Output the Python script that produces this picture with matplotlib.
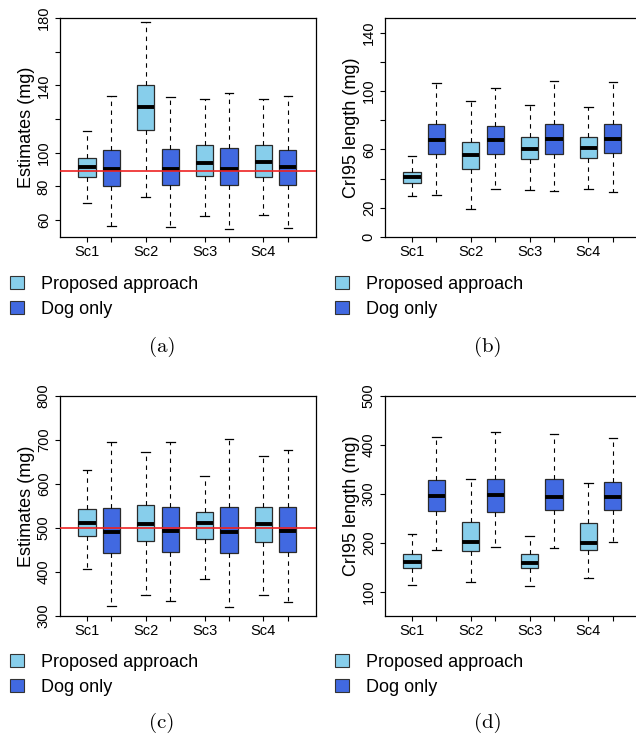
import numpy as np
import matplotlib.pyplot as plt
from matplotlib.patches import Patch

plt.rcParams['font.family'] = ['Liberation Sans', 'DejaVu Sans']

scenarios = ['Sc1', 'Sc2', 'Sc3', 'Sc4']
methods = ['Proposed approach', 'Dog only']
colors = ['#87CEEB', '#4169E1']

# box summaries, order: Sc1 proposed, Sc1 dog, Sc2 proposed, Sc2 dog, ...
# (a) estimates, small dose
a_lo = [69.9, 56.4, 74.0, 55.8, 62.2, 54.9, 63.2, 55.1]
a_q1 = [85.5, 80.4, 113.8, 80.8, 86.3, 81.1, 85.9, 81.1]
a_med = [91.4, 90.4, 127.4, 90.4, 94.0, 90.6, 94.6, 91.4]
a_q3 = [96.6, 101.7, 140.1, 102.1, 104.5, 102.9, 104.7, 101.9]
a_hi = [113.2, 133.5, 177.6, 132.9, 132.0, 135.5, 132.2, 133.5]
a_true = 89

# (b) CrI95 length, small dose
b_lo = [28.0, 28.9, 18.9, 33.2, 32.1, 31.4, 33.0, 31.0]
b_q1 = [37.1, 56.9, 46.4, 57.1, 53.5, 57.1, 53.9, 57.8]
b_med = [41.0, 66.2, 56.4, 66.7, 60.5, 67.4, 61.0, 67.1]
b_q3 = [44.4, 77.2, 65.1, 76.0, 68.3, 77.2, 68.3, 77.2]
b_hi = [55.5, 105.6, 93.1, 102.2, 90.1, 107.0, 89.2, 106.3]

# (c) estimates, large dose
c_lo = [407.6, 322.7, 347.0, 334.1, 383.3, 321.2, 347.7, 332.6]
c_q1 = [481.8, 443.9, 469.7, 446.2, 475.0, 442.4, 468.2, 445.5]
c_med = [510.6, 490.9, 508.3, 492.4, 510.6, 490.2, 508.3, 492.4]
c_q3 = [542.4, 545.5, 551.5, 547.0, 537.1, 547.7, 548.5, 547.0]
c_hi = [632.6, 695.5, 672.0, 696.2, 619.0, 701.5, 663.6, 676.5]
c_true = 500

# (d) CrI95 length, large dose
d_lo = [114.3, 184.4, 120.4, 190.5, 111.6, 189.1, 128.6, 201.4]
d_q1 = [148.3, 264.0, 183.0, 261.9, 148.3, 266.0, 184.4, 266.0]
d_med = [160.5, 295.2, 201.4, 297.3, 159.2, 293.9, 199.3, 293.2]
d_q3 = [176.9, 327.9, 241.5, 330.0, 176.2, 330.0, 239.5, 324.5]
d_hi = [218.4, 416.3, 329.3, 425.9, 214.3, 423.1, 322.5, 413.6]

W, H = 636, 738
pos = np.repeat(np.arange(4) * 2.4, 2) + np.tile([1, 2], 4)


def panel(rect, lo, q1, med, q3, hi, ylim, yticks, ylabels, ylabel, true=None):
    l, t, w, h = rect
    ax = fig.add_axes([l / W, 1 - (t + h) / H, w / W, h / H])
    stats = [dict(whislo=lo[i], q1=q1[i], med=med[i], q3=q3[i], whishi=hi[i], fliers=[])
             for i in range(len(med))]
    bp = ax.bxp(stats, positions=pos, widths=0.7, patch_artist=True, showfliers=False,
                manage_ticks=False,
                boxprops=dict(edgecolor='#2a2a2a', linewidth=0.9),
                medianprops=dict(color='black', linewidth=2.8, solid_capstyle='butt'),
                whiskerprops=dict(color='black', linewidth=0.8, linestyle=(0, (4, 4))),
                capprops=dict(color='black', linewidth=0.9))
    for i, box in enumerate(bp['boxes']):
        box.set_facecolor(colors[i % 2])
    if true is not None:
        ax.axhline(true, color='#ee2222', linewidth=1.2, zorder=5)
    ax.set_xlim(-0.1, 10.35)
    ax.set_ylim(*ylim)
    ax.set_xticks(pos)
    xl = []
    for s in scenarios:
        xl += [s, '']
    ax.set_xticklabels(xl, fontsize=10.5)
    ax.set_yticks(yticks)
    ax.set_yticklabels(ylabels, fontsize=10.5, rotation=90, va='center')
    ax.tick_params(direction='out', length=3.6, width=0.8, pad=2)
    ax.tick_params(axis='y', pad=3)
    ax.set_ylabel(ylabel, fontsize=13, labelpad=1)
    for sp in ax.spines.values():
        sp.set_linewidth(0.9)
    return ax


def legend(ax, x, y):
    handles = [Patch(facecolor=c, edgecolor='#333333', linewidth=0.8) for c in colors]
    ax.legend(handles, methods, loc='upper left', bbox_to_anchor=(x / W, 1 - y / H),
              bbox_transform=fig.transFigure, frameon=False, fontsize=13,
              handlelength=0.75, handleheight=0.75, handletextpad=0.95,
              labelspacing=0.42, borderpad=0, borderaxespad=0)


fig = plt.figure(figsize=(W / 100, H / 100), dpi=100)

ax_a = panel((60, 18, 256, 219), a_lo, a_q1, a_med, a_q3, a_hi, (50, 180),
             [60, 80, 100, 120, 140, 160, 180], ['60', '80', '100', '', '140', '', '180'],
             'Estimates (mg)', a_true)
ax_b = panel((385, 18, 256, 219), b_lo, b_q1, b_med, b_q3, b_hi, (0, 150),
             [0, 20, 40, 60, 80, 100, 120, 140], ['0', '20', '', '60', '', '100', '', '140'],
             'CrI95 length (mg)')
ax_c = panel((60, 396, 256, 220), c_lo, c_q1, c_med, c_q3, c_hi, (300, 800),
             [300, 400, 500, 600, 700, 800], ['300', '400', '500', '600', '700', '800'],
             'Estimates (mg)', c_true)
ax_d = panel((385, 396, 256, 220), d_lo, d_q1, d_med, d_q3, d_hi, (50, 500),
             [100, 200, 300, 400, 500], ['100', '200', '300', '400', '500'],
             'CrI95 length (mg)')

legend(ax_a, 10, 276)
legend(ax_b, 335, 276)
legend(ax_c, 10, 654)
legend(ax_d, 335, 654)

for lab, x, y in [('(a)', 162, 347), ('(b)', 488, 347), ('(c)', 162, 723), ('(d)', 488, 723)]:
    fig.text(x / W, 1 - y / H, lab, family='cmr10', fontsize=15, ha='center', va='center')

fig.savefig('out.png', dpi=100)
